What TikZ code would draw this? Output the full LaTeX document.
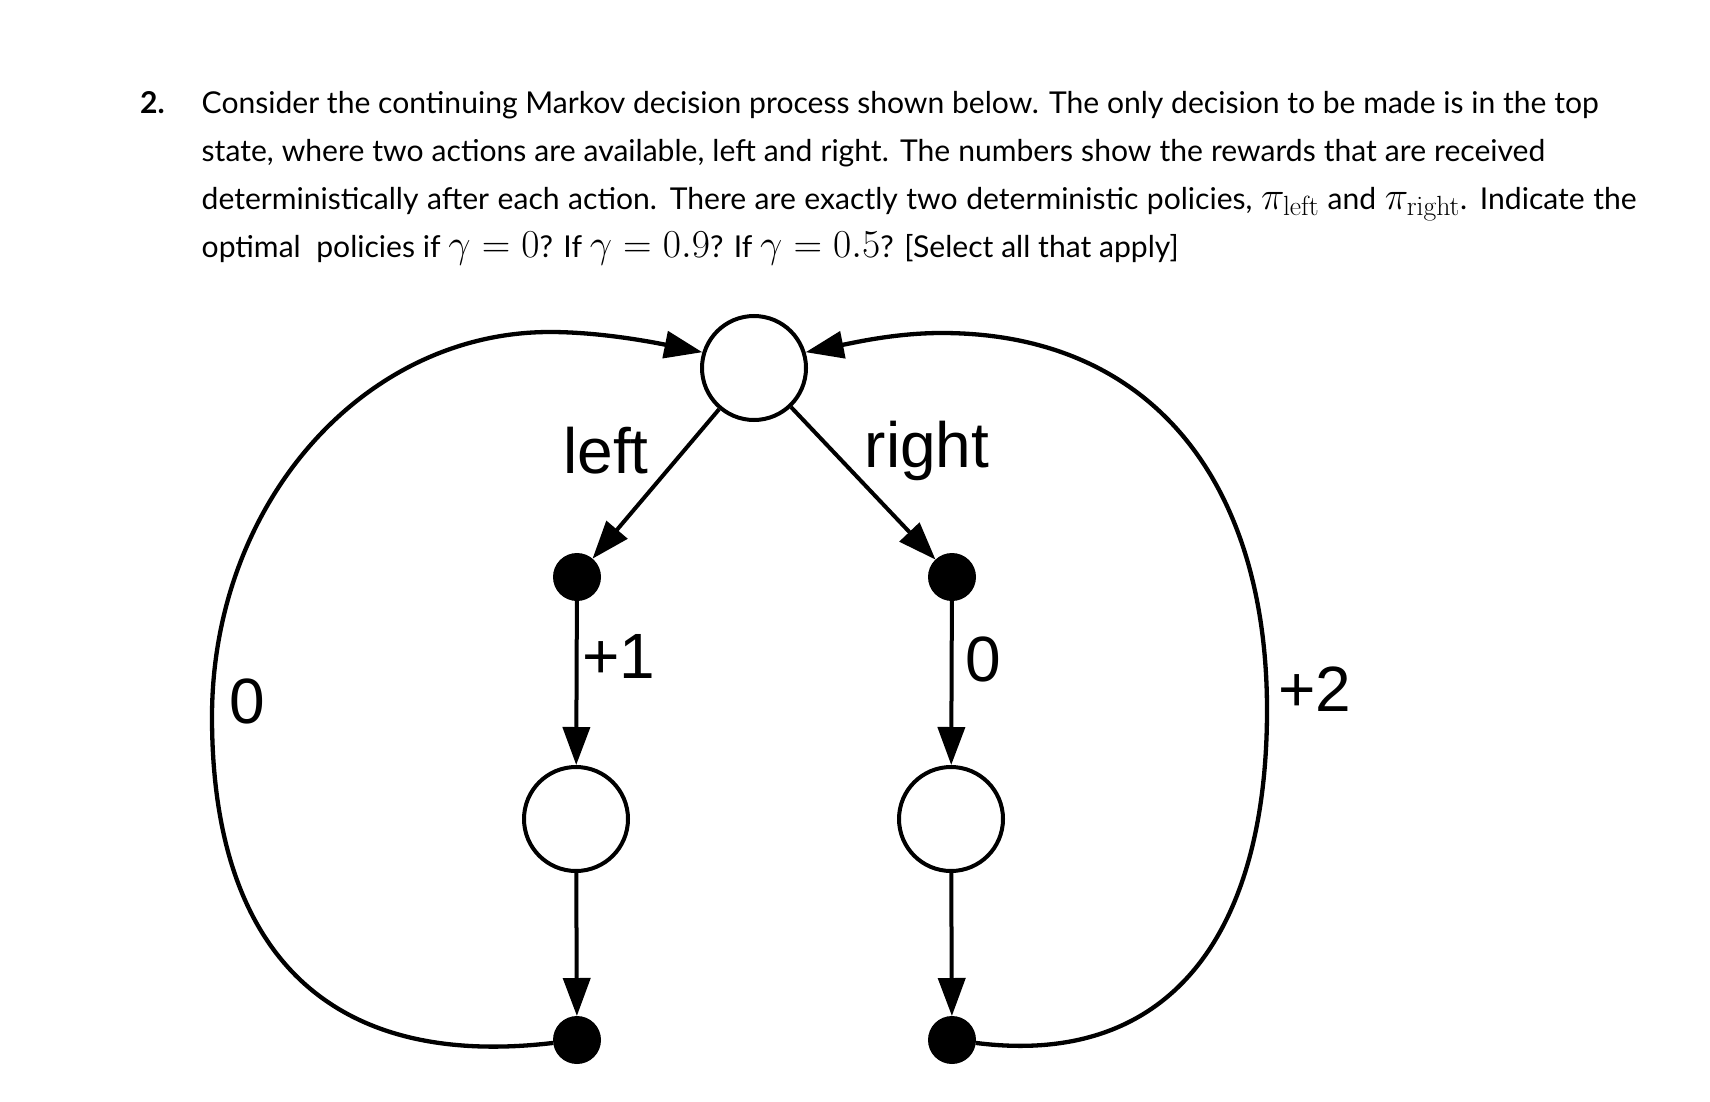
\documentclass[tikz,border=0pt]{standalone}
\usepackage{fix-cm}
\usepackage[no-math]{fontspec}
\setmainfont{Lato}
\newfontfamily\diagfont{Liberation Sans}
\usetikzlibrary{arrows.meta}
\newsavebox\qboxA
\newlength\qlenA
\newcommand\qfont{\fontsize{30pt}{36pt}\selectfont}
\newcommand\qm[1]{{\fontsize{39.5pt}{42pt}\selectfont$#1$}}
\tikzset{
  state/.style={circle, draw, line width=4pt, fill=white, minimum size=104pt, inner sep=0pt},
  dotnode/.style={circle, fill=black, draw=none, minimum size=48pt, inner sep=0pt, outer sep=0pt},
  conn/.style={line width=4pt, -{Triangle[length=38pt,width=27pt]}},
  loopconn/.style={line width=4.3pt, -{Triangle[length=38pt,width=27pt]}},
  lbl/.style={font=\diagfont\fontsize{64pt}{70pt}\selectfont, anchor=base, inner sep=0pt},
  qline/.style={anchor=base west, inner sep=0pt}
}
\begin{document}
\sbox\qboxA{\qfont Consider the continuing Markov decision process shown below. The only decision to be made is in the top}%
\setlength\qlenA{\wd\qboxA}%
\pgfmathsetmacro\qs{1397/\qlenA}%
\pgfmathsetmacro\wB{1343.5/\qs}%
\pgfmathsetmacro\wC{1435/\qs}%
\pgfmathsetmacro\wD{977/\qs}%
\begin{tikzpicture}[x=1pt, y=-1pt]
\fill[white] (0,0) rectangle (1710,1102);
\useasboundingbox (0,0) rectangle (1710,1102);
% question text
\node[qline] (num) at (140,113.3) {\scalebox{\qs}{\qfont\bfseries 2.}};
\node[qline] (q1) at (201.5,113.3) {\scalebox{\qs}{\qfont Consider the continuing Markov decision process shown below. The only decision to be made is in the top}};
\node[qline] (q2) at (201.5,161.7) {\scalebox{\qs}{\qfont\makebox[\wB pt][s]{state, where two actions are available, left and right. The numbers show the rewards that are received}}};
\node[qline] (q3) at (201.5,209.5) {\scalebox{\qs}{\qfont\makebox[\wC pt][s]{deterministically after each action. There are exactly two deterministic policies, \qm{\pi_{\mathrm{left}}} and \qm{\pi_{\mathrm{right}}}. Indicate the}}};
\node[qline] (q4) at (201.5,257.5) {\scalebox{\qs}{\qfont\makebox[\wD pt][s]{optimal\ \ policies if \qm{\gamma=0}? If \qm{\gamma=0.9}? If \qm{\gamma=0.5}? [Select all that apply]}}};
% states
\node[state] (top) at (754,368) {};
\node[dotnode] (ldot) at (577,577) {};
\node[dotnode] (rdot) at (952,577) {};
\node[state] (lmid) at (576,819) {};
\node[state] (rmid) at (951,819) {};
\node[dotnode] (lbot) at (577,1040) {};
\node[dotnode] (rbot) at (952,1040) {};
% coordinates for the return loops
\coordinate (lx) at (212,717);
\coordinate (lpk) at (550,332);
\coordinate (rx) at (1267,710);
\coordinate (rpk) at (941.6,333);
% connectors
\draw[conn] (top) -- (ldot);
\draw[conn] (top) -- (rdot);
\draw[conn] (ldot) -- (lmid);
\draw[conn] (lmid) -- (lbot);
\draw[conn] (rdot) -- (rmid);
\draw[conn] (rmid) -- (rbot);
\draw[loopconn] (lbot.187) .. controls (324,1070) and (212,947) .. (lx)
  .. controls (212,504) and (363,332) .. (lpk)
  .. controls (600,332) and (652,342) .. (top.163);
\draw[loopconn] (rbot.-7) .. controls (1173,1068) and (1267,930) .. (rx)
  .. controls (1267,484) and (1153,333) .. (rpk)
  .. controls (897,333) and (857,342) .. (top.17);
% labels
\node[lbl] (tleft) at (606,473) {left};
\node[lbl] (tright) at (927,467) {right};
\node[lbl] (tp1) at (618.5,678) {+1};
\node[lbl] (tr0) at (983,681.7) {0};
\node[lbl] (tl0) at (247.3,723) {0};
\node[lbl] (tp2) at (1315,711.7) {+2};
\end{tikzpicture}
\end{document}
